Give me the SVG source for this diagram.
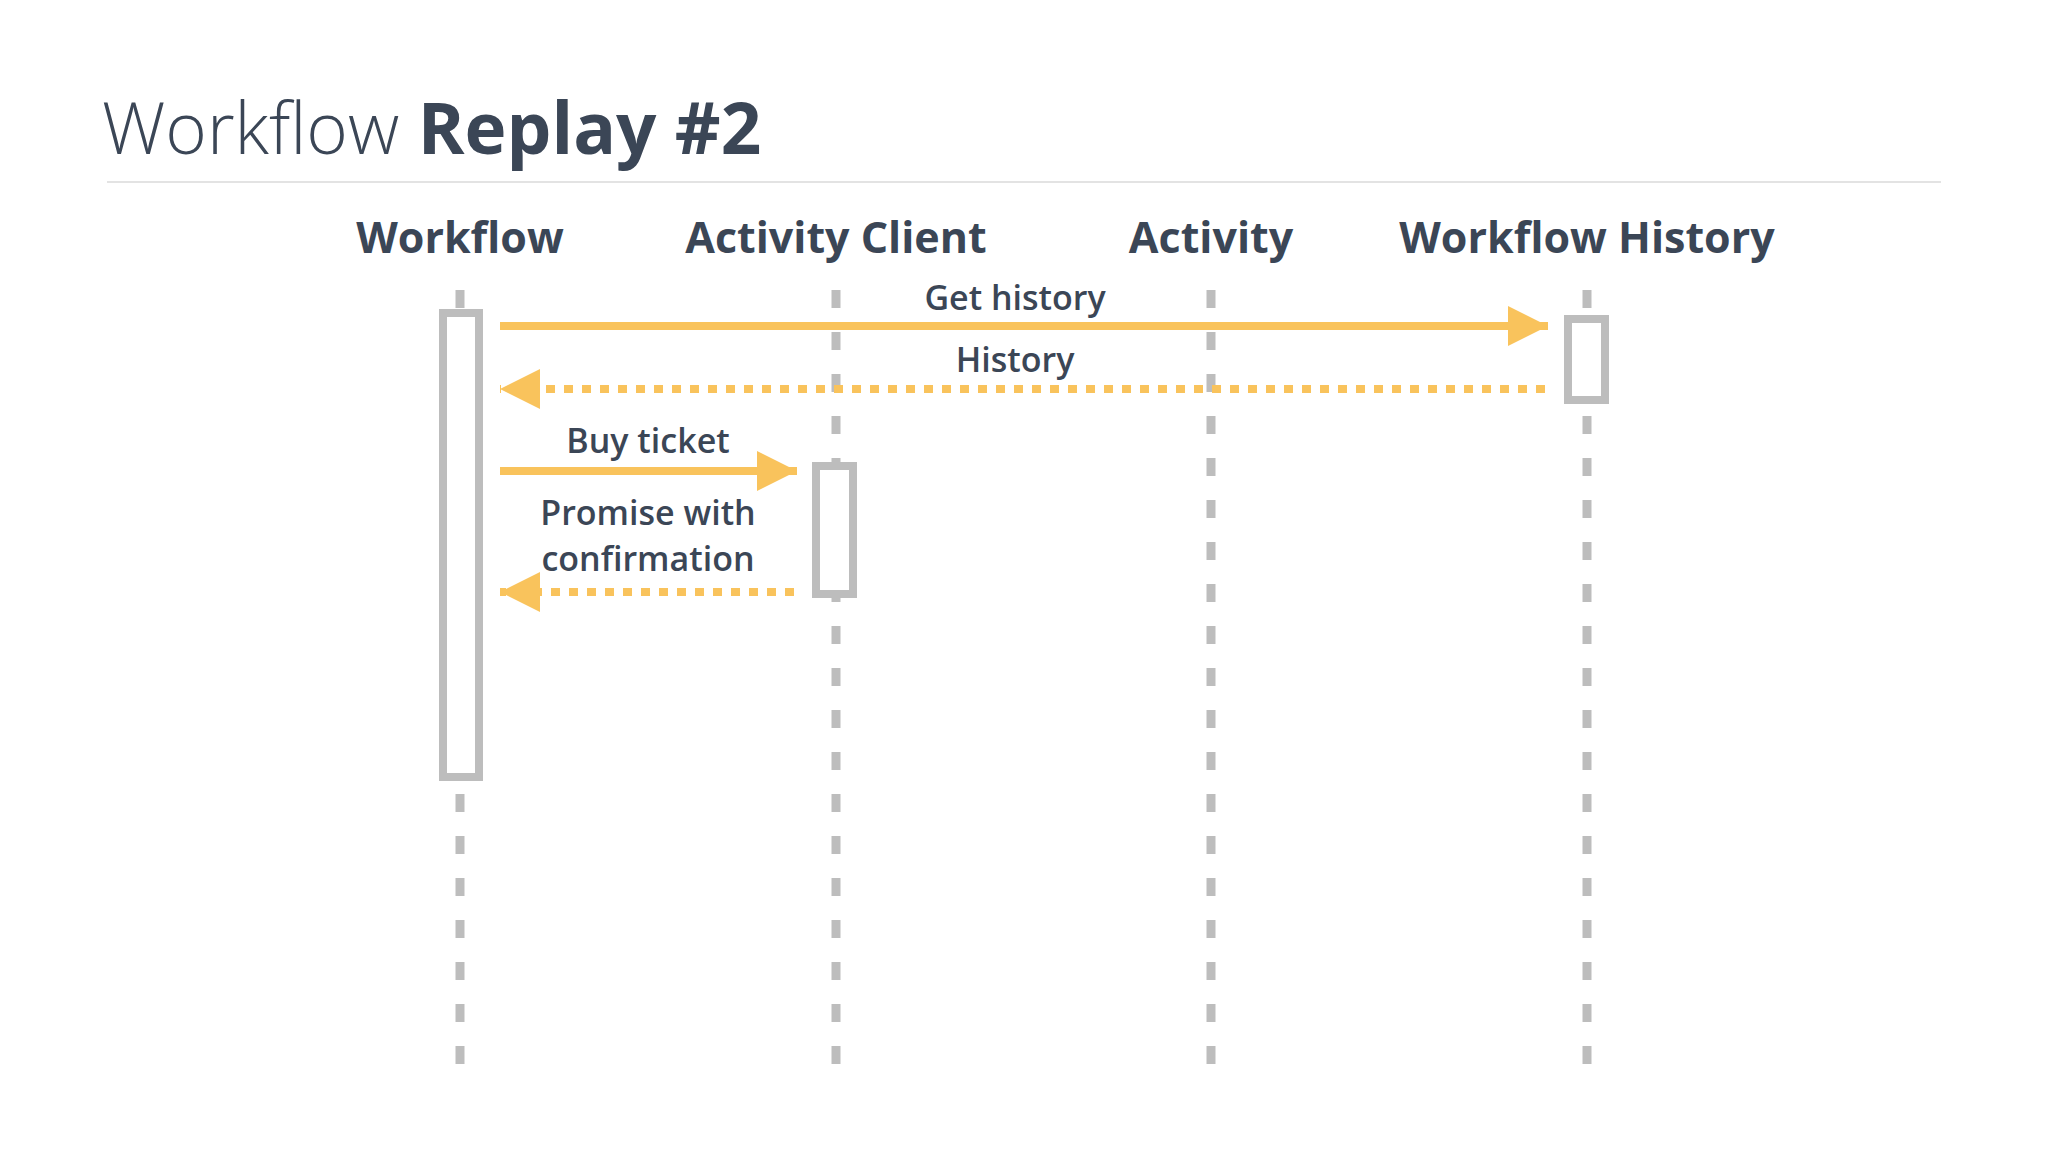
<svg xmlns="http://www.w3.org/2000/svg" width="2048" height="1152" viewBox="0 0 2048 1152">
<defs>
<style>
.t{font-family:"Open Sans","Noto Sans",sans-serif;fill:#3b4656}
.h{font-size:43px;font-weight:bold;text-anchor:middle}
.l{font-size:34px;font-weight:600;text-anchor:middle}
.life{stroke:#bdbdbd;stroke-width:9;stroke-dasharray:18 24;fill:none}
.box{fill:#fff;stroke:#bdbdbd;stroke-width:8}
.a{stroke:#f9c35c;stroke-width:8;fill:none}
.d{stroke-dasharray:9 9}
</style>
<marker id="ah" viewBox="0 0 10 10" refX="10" refY="5" markerWidth="5" markerHeight="5" markerUnits="strokeWidth" orient="auto"><path d="M0,0L10,5L0,10z" fill="#f9c35c"/></marker>
</defs>
<rect width="2048" height="1152" fill="#fff"/>
<text class="t" x="102" y="154" font-size="71"><tspan font-weight="300">Workflow </tspan><tspan font-weight="bold">Replay #2</tspan></text>
<line x1="107" y1="182" x2="1941" y2="182" stroke="#e3e3e3" stroke-width="2"/>
<g id="workflow"><text class="t h" x="460" y="253">Workflow</text><line class="life" x1="460" y1="290" x2="460" y2="1075"/><rect class="box" x="443" y="313" width="36" height="464"/></g>
<g id="activity-client"><text class="t h" x="836" y="253">Activity Client</text><line class="life" x1="836" y1="290" x2="836" y2="1075"/><rect class="box" x="816" y="466" width="37" height="128"/></g>
<g id="activity"><text class="t h" x="1211" y="253">Activity</text><line class="life" x1="1211" y1="290" x2="1211" y2="1075"/></g>
<g id="workflow-history"><text class="t h" x="1587" y="253">Workflow History</text><line class="life" x1="1587" y1="290" x2="1587" y2="1075"/><rect class="box" x="1568" y="319" width="37" height="81"/></g>
<g id="connectors">
<line class="a" x1="500" y1="326" x2="1548" y2="326" marker-end="url(#ah)"/>
<text class="t l" x="1015" y="310">Get history</text>
<line class="a d" x1="1545" y1="389" x2="500" y2="389" marker-end="url(#ah)"/>
<text class="t l" x="1015" y="372">History</text>
<line class="a" x1="500" y1="471" x2="797" y2="471" marker-end="url(#ah)"/>
<text class="t l" x="648" y="453">Buy ticket</text>
<line class="a d" x1="794" y1="592" x2="500" y2="592" marker-end="url(#ah)"/>
<text class="t l" x="648" y="525">Promise with</text>
<text class="t l" x="648" y="571">confirmation</text>
</g>
</svg>
